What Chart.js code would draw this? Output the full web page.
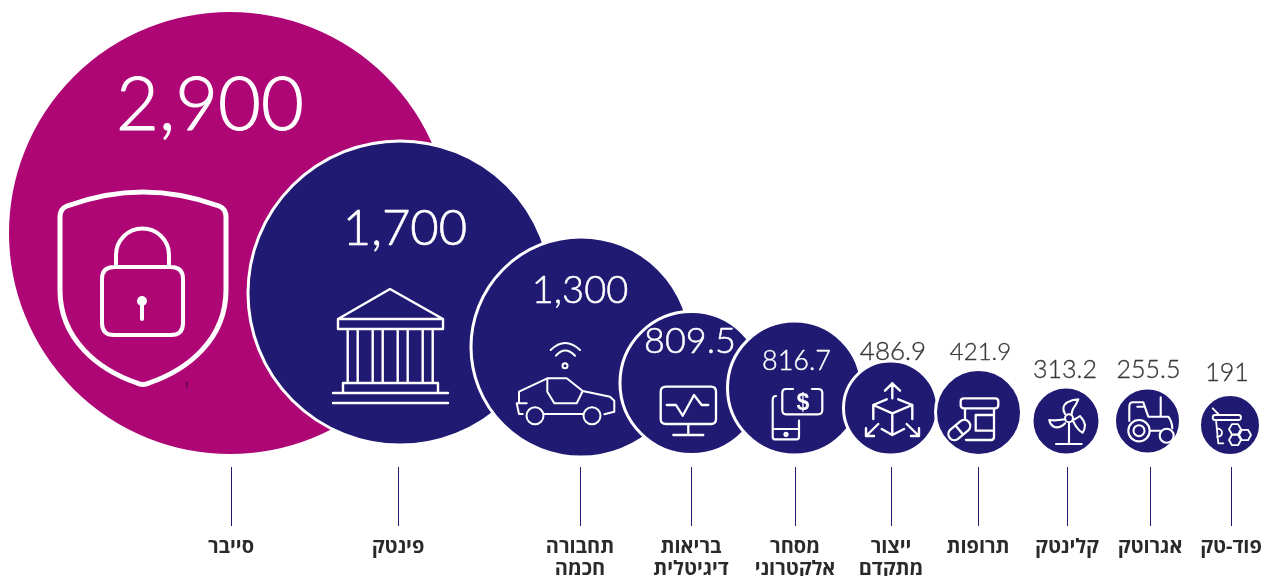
<!DOCTYPE html>
<html lang="he">
<head>
<meta charset="utf-8">
<title>bubbles</title>
<script src="https://cdn.jsdelivr.net/npm/chart.js@4/dist/chart.umd.min.js"></script>
<style>
  html, body { margin: 0; padding: 0; background: #fff; }
  canvas { display: block; }
</style>
</head>
<body>
<canvas id="chart" width="1269" height="576"></canvas>
<script>
const categories = [['סייבר'], ['פינטק'], ['תחבורה', 'חכמה'], ['בריאות', 'דיגיטלית'], ['מסחר', 'אלקטרוני'], ['ייצור', 'מתקדם'], ['תרופות'], ['קלינטק'], ['אגרוטק'], ['פוד-טק']];
const values = [2900, 1700, 1300, 809.5, 816.7, 486.9, 421.9, 313.2, 255.5, 191];
const tickX = [231, 398, 580, 691, 795, 891, 978, 1067, 1150, 1231];
const bubbleX = [230, 400, 581, 691.5, 794.5, 890.5, 978.5, 1066, 1147.5, 1230];
const bubbleY = [233, 293, 347, 383, 388, 408, 412.5, 421, 421, 425];
const bubbleR = [222.5, 152, 110, 71.5, 67, 47, 43, 34, 33, 30.5];

const pink = '#ae0775';
const navy = '#211a73';

// value text: offset from bubble centre, baseline offset, font size
const valueStyle = [
  [-20, -103, 74], [5, -48, 49], [-1, -44, 38], [-1.5, -30, 36], [2, -18, 27],
  [2.5, -48, 26], [2, -53, 24], [-1, -43, 25], [1, -43, 25], [-3, -44, 25]
];

function hex(cx, cy) {
  const r = 6, h = 5.2;
  return `M${cx - r} ${cy}L${cx - r / 2} ${cy - h}H${cx + r / 2}L${cx + r} ${cy}L${cx + r / 2} ${cy + h}H${cx - r / 2}Z`;
}

// icons: dx, dy from bubble centre, line width, svg path in local pixels
const icons = [
  [-171, -43, 5, 'M84 2C58 2 30 8 8 16C3 18 1 21 1 27V100C1 150 40 180 78 193Q84 196 90 193C128 180 167 150 167 100V27C167 21 165 18 160 16C138 8 110 2 84 2Z'],
  [-70, -8, 2.4, 'M8 34L60 4L113 34ZM8 34H113V44H8ZM17.7 44V98M27.7 44V98M42.7 44V98M52.7 44V98M67.7 44V98M77.7 44V98M92.7 44V98M102.7 44V98M13 108V98H108V108M3 108H118M3 118H118'],
  [-71, -12, 2, 'M40.7 15Q55 1 70 15M46 20.7Q55 10.5 65 20.7M57.5 30.7A2.5 2.5 0 1 1 52.5 30.7A2.5 2.5 0 1 1 57.5 30.7M12.7 79H9L6.7 68.3H16.7M9 68.3V56.7L37.3 43.3H56.7L72.7 56L100 61.7L104.3 65.7V76.7L94.3 79.3M37.3 43.3V56.7L44.3 68.3H66.7L72.7 56M34 79H73.3M33.5 80.7A8.5 8.5 0 1 1 16.5 80.7A8.5 8.5 0 1 1 33.5 80.7M90.5 80.7A8.5 8.5 0 1 1 73.5 80.7A8.5 8.5 0 1 1 90.5 80.7'],
  [-36.5, -3, 2.3, 'M11 6.7H56Q61 6.7 61 11.7V39Q61 44 56 44H11Q5.7 44 5.7 39V11.7Q5.7 6.7 11 6.7ZM33.3 44V55M18.3 55H48.3M11.7 25H21L27.7 35.7L39 15L46.7 25H53.3'],
  [-29.5, -8, 2.2, 'M11 16Q7.7 16 7.7 20V56.7Q7.7 59.3 10 59.3H31.7Q34 59.3 34 56.7V40.7M7.7 49H34M22.5 54.3A1.5 1.5 0 1 1 19.5 54.3A1.5 1.5 0 1 1 22.5 54.3M28 9H21Q17.3 9 17.3 13V30Q17.3 34.3 21 34.3H53Q57.3 34.3 57.3 30V13Q57.3 9 53 9H47'],
  [-30.5, -28, 2.4, 'M32.3 3.3V18.3M25 10.7L32.3 3.3L40 10.7M26.7 19.3L13.3 25L32.3 33.3L52.3 25L38.3 19.3M32.3 33.3V55M13.3 25V39M52.3 25V39M21.7 49L32.3 55L44 49M18.3 44L6 56M6 48.3V56H14M46.7 44L59 56M59 48.3V56H51'],
  [-33.5, -22.5, 2.3, 'M19 8.3H50Q53.3 8.3 53.3 11.3V15.3Q53.3 18.3 50 18.3H19Q15.7 18.3 15.7 15.3V11.3Q15.7 8.3 19 8.3ZM20 18.3V28.3M49 18.3V46.7Q49 50 46 50H21M30.7 25H49M30.7 25V40.7H49M23.5 40.1L12.7 49.1A6 6 0 0 1 5.1 39.9L15.9 30.9A6 6 0 0 1 23.5 40.1ZM10.5 35.4L18.1 44.6'],
  [-21, -26, 2.1, 'M28 23.3A4 4 0 1 1 20 23.3A4 4 0 1 1 28 23.3M24 28V49M11 49H36.7M20 19Q16 12 21.7 7.7Q27 4.5 33.3 4.3Q31 10 28.3 13.3Q27 16 26.7 19M19.3 24.3Q11 26 4.3 25Q5 30 10 32.3Q16 33 20 28.3M28.3 25Q32 23 35 21Q39 25 40 30Q40 34 37.7 37.7Q34 36 31.7 32.3Q29.5 29 28.6 27'],
  [-27.5, -26, 2.1, 'M29.7 35.7A10.7 10.7 0 1 1 8.3 35.7A10.7 10.7 0 1 1 29.7 35.7M24.5 35.7A5.5 5.5 0 1 1 13.5 35.7A5.5 5.5 0 1 1 24.5 35.7M53.7 40.7A7 7 0 1 1 39.7 40.7A7 7 0 1 1 53.7 40.7M9.3 26V11.7Q9.3 7.3 13 7.3H23.3L28.3 21.7H48.3Q52 26 52.3 33.3M40.7 2.3V21.7M30 35.7H40M17.3 11.7H23'],
  [-25, -25, 1.8, 'M10 15H33.5Q36 15 36 17.5Q36 20 33.5 20H10Q7.7 20 7.7 17.5Q7.7 15 10 15ZM7.7 8.3L14.3 15M11 20L13.3 43.3H18.3M11.7 28.3Q17 29 17 32.5Q17 36.5 12 37' + hex(30, 29.3) + hex(40, 35) + hex(30, 40)]
];

const bubbleExtras = {
  id: 'bubbleExtras',
  afterDatasetsDraw(chart) {
    const ctx = chart.ctx;
    const points = chart.getDatasetMeta(0).data;
    ctx.save();
    ctx.lineJoin = 'round';
    ctx.lineCap = 'round';

    points.forEach((pt, i) => {
      const ic = icons[i];
      ctx.save();
      ctx.strokeStyle = '#fff';
      ctx.translate(pt.x + ic[0], pt.y + ic[1]);
      ctx.lineWidth = ic[2];
      ctx.stroke(new Path2D(ic[3]));
      ctx.restore();

      const st = valueStyle[i];
      const colour = i < 5 ? '#fff' : '#3a3a3a';
      const label = values[i].toLocaleString('en-US');
      ctx.fillStyle = colour;
      ctx.strokeStyle = colour;
      ctx.lineWidth = st[2] * 0.014; // the original figures are a touch heavier than Lato Light
      ctx.font = `300 ${st[2]}px Lato`;
      ctx.textAlign = 'center';
      ctx.textBaseline = 'alphabetic';
      ctx.fillText(label, pt.x + st[0], pt.y + st[1]);
      ctx.strokeText(label, pt.x + st[0], pt.y + st[1]);
    });

    // lock inside the shield, hole and dollar sign
    const p0 = points[0];
    ctx.strokeStyle = '#fff';
    ctx.lineWidth = 4;
    ctx.stroke(new Path2D(`M${p0.x - 116} ${p0.y + 34}h57q12 0 12 12v44q0 12 -12 12h-57q-12 0 -12 -12v-44q0 -12 12 -12zM${p0.x - 114} ${p0.y + 34}v-12a26.5 26.5 0 0 1 53 0v12M${p0.x - 88} ${p0.y + 72}v14`));
    ctx.fillStyle = '#fff';
    ctx.beginPath();
    ctx.arc(p0.x - 88, p0.y + 68, 5, 0, Math.PI * 2);
    ctx.fill();

    const p4 = points[4];
    ctx.font = 'bold 23px "Liberation Sans"';
    ctx.fillText('$', p4.x + 8.5, p4.y + 22);

    ctx.fillStyle = '#000';
    ctx.font = '9px "Liberation Sans"';
    ctx.fillText('!', p0.x - 43, p0.y + 154.5);
    ctx.restore();
  }
};

new Chart(document.getElementById('chart'), {
  type: 'bubble',
  data: {
    datasets: [{
      data: bubbleX.map((x, i) => ({ x: x, y: bubbleY[i], r: bubbleR[i] })),
      backgroundColor: bubbleX.map((x, i) => i === 0 ? pink : navy),
      borderColor: '#fff',
      borderWidth: 3,
      hoverBorderWidth: 3,
      clip: false
    }]
  },
  options: {
    responsive: false,
    animation: false,
    layout: { autoPadding: false, padding: 0 },
    plugins: { legend: { display: false }, tooltip: { enabled: false } },
    scales: {
      x: {
        type: 'linear',
        min: 0,
        max: 1269,
        afterBuildTicks: scale => { scale.ticks = tickX.map(v => ({ value: v })); },
        afterFit: scale => {
          scale.height = 109;
          scale.paddingLeft = 0;
          scale.paddingRight = 0;
        },
        border: { display: false },
        grid: { drawOnChartArea: false, drawTicks: true, tickLength: 59, tickColor: navy, tickWidth: 1 },
        ticks: {
          autoSkip: false,
          maxRotation: 0,
          minRotation: 0,
          padding: 11,
          color: '#2a2a2a',
          font: { family: '"Open Sans"', size: 20, weight: '700', lineHeight: 1.07 },
          callback: (value, index) => categories[index]
        }
      },
      y: { display: false, reverse: true, min: 0, max: 467 }
    }
  },
  plugins: [bubbleExtras]
});
</script>
</body>
</html>
